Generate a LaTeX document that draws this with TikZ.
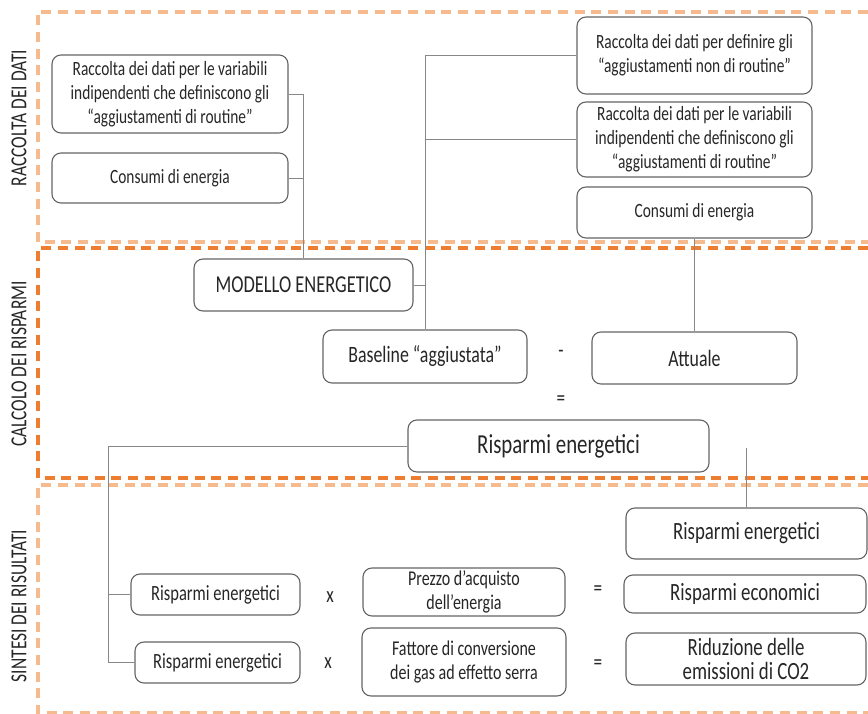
\documentclass[tikz,border=0pt]{standalone}
\usepackage{fontspec}
\setmainfont{Carlito}[FakeStretch=0.76]
\newdimen\pxu \pxu=0.75pt
\definecolor{orangedark}{RGB}{237,125,49}
\definecolor{orangelight}{RGB}{245,186,142}
\definecolor{boxline}{RGB}{100,100,100}
\definecolor{linkline}{RGB}{135,135,135}
\definecolor{inkgray}{RGB}{38,38,38}
\tikzset{
  box/.style={draw=boxline, line width=0.85pt, rounded corners=9\pxu, inner sep=0pt,
    align=center, text=inkgray},
  small/.style={font=\fontsize{15.2}{18}\selectfont},
  mid/.style={font=\fontsize{17.6}{20}\selectfont},
  link/.style={draw=linkline, line width=0.7pt},
  frame/.style={line width=2.4pt, dash pattern=on 7.5pt off 5pt},
  sidelabel/.style={rotate=90, text=inkgray, font=\fontsize{17.2}{20}\selectfont},
  op/.style={text=inkgray, font=\fontsize{17}{20}\selectfont}
}
\begin{document}
\begin{tikzpicture}[x=0.75pt,y=-0.75pt]
  \useasboundingbox (0,0) rectangle (868,714);
  \draw[frame, orangelight] (868,12) -- (38,12) -- (38,242) -- (868,242);
  \draw[frame, orangedark] (868,248) -- (38,248) -- (38,478) -- (868,478);
  \draw[frame, orangelight] (868,485) -- (38,485) -- (38,713) -- (868,713);
  \node[sidelabel] (lab1) at (19,118) {RACCOLTA DEI DATI};
  \node[sidelabel] (lab2) at (19,364) {CALCOLO DEI RISPARMI};
  \node[sidelabel] (lab3) at (19,606) {SINTESI DEI RISULTATI};

  \node[box, small, minimum width=236\pxu, minimum height=78\pxu] (vars1) at (170,94)
    {Raccolta dei dati per le variabili\\indipendenti che definiscono gli\\“aggiustamenti di routine”};
  \node[box, small, minimum width=236\pxu, minimum height=50\pxu] (cons1) at (170,178)
    {Consumi di energia};
  \node[box, small, minimum width=235\pxu, minimum height=77\pxu] (nonroutine) at (694.5,55.5)
    {Raccolta dei dati per definire gli\\“aggiustamenti non di routine”};
  \node[box, small, minimum width=235\pxu, minimum height=75\pxu] (vars2) at (694.5,139.5)
    {Raccolta dei dati per le variabili\\indipendenti che definiscono gli\\“aggiustamenti di routine”};
  \node[box, small, minimum width=235\pxu, minimum height=51\pxu] (cons2) at (694.5,212.5)
    {Consumi di energia};
  \node[box, font=\fontsize{18.2}{20}\selectfont, minimum width=219\pxu, minimum height=52\pxu]
    (model) at (303.5,285) {MODELLO ENERGETICO};
  \node[box, mid, minimum width=204\pxu, minimum height=53\pxu] (baseline) at (425,356.5)
    {Baseline “aggiustata”};
  \node[box, mid, minimum width=205\pxu, minimum height=52\pxu] (actual) at (694.5,358)
    {Attuale};
  \node[op] (minus) at (561,354) {-};
  \node[op] (eq0) at (561,401) {=};
  \node[box, font=\fontsize{20.6}{24}\selectfont, minimum width=301\pxu, minimum height=52\pxu]
    (savings) at (558.5,446) {Risparmi energetici};

  \node[box, font=\fontsize{16.3}{19}\selectfont, minimum width=169\pxu, minimum height=41\pxu]
    (sav1) at (215.5,594.5) {Risparmi energetici};
  \node[box, font=\fontsize{16.3}{19}\selectfont, minimum width=165\pxu, minimum height=41\pxu]
    (sav2) at (217.5,662.5) {Risparmi energetici};
  \node[op] (times1) at (330,597) {x};
  \node[op] (times2) at (328,663) {x};
  \node[box, font=\fontsize{15.8}{18.5}\selectfont, minimum width=202\pxu, minimum height=48\pxu]
    (price) at (464,592) {Prezzo d’acquisto\\dell’energia};
  \node[box, font=\fontsize{15.8}{17.5}\selectfont, minimum width=204\pxu, minimum height=68\pxu]
    (factor) at (464,662) {Fattore di conversione\\dei gas ad effetto serra};
  \node[op] (eq1) at (598,591) {=};
  \node[op] (eq2) at (598,665) {=};
  \node[box, font=\fontsize{18.6}{21}\selectfont, minimum width=241\pxu, minimum height=51\pxu]
    (res0) at (746.5,533.5) {Risparmi energetici};
  \node[box, font=\fontsize{18.6}{21}\selectfont, minimum width=242\pxu, minimum height=38\pxu]
    (res1) at (745,594) {Risparmi economici};
  \node[box, font=\fontsize{18.6}{17.5}\selectfont, minimum width=240\pxu, minimum height=52\pxu]
    (res2) at (746,659) {Riduzione delle\\emissioni di CO2};

  \coordinate (split) at (108,446);
  \coordinate (gap) at (746.5,448);
  \begin{scope}[link]
    \draw (vars1.east) -| (model.north);
    \draw (cons1.east) -| (model.north);
    \draw (nonroutine.west) -| (baseline.north);
    \draw (vars2.west) -| (baseline.north);
    \draw (model.east) -| (baseline.north);
    \draw (cons2.south) to (actual.north);
    \draw (savings.west) to (split);
    \draw (split) |- (sav1.west);
    \draw (split) |- (sav2.west);
    \draw (gap) to (res0.north);
  \end{scope}
\end{tikzpicture}
\end{document}
